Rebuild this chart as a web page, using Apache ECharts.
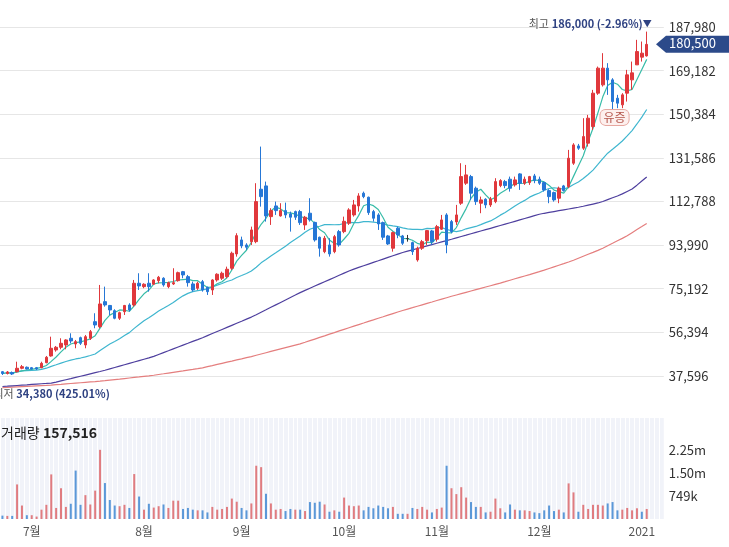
<!DOCTYPE html>
<html>
<head>
<meta charset="utf-8">
<script src="https://cdn.jsdelivr.net/npm/echarts@6/dist/echarts.min.js"></script>
<style>
  html, body { margin: 0; padding: 0; background: #fff; }
  #chart { width: 729px; height: 547px; }
</style>
</head>
<body>
<div id="chart"></div>
<script>
// 일봉 (2020-06-23 ~ 2021-01-05)
const dates = [
  '2020-06-23', '2020-06-24', '2020-06-25', '2020-06-26', '2020-06-29', '2020-06-30',
  '2020-07-01', '2020-07-02', '2020-07-03', '2020-07-06', '2020-07-07', '2020-07-08', '2020-07-09', '2020-07-10',
  '2020-07-13', '2020-07-14', '2020-07-15', '2020-07-16', '2020-07-17', '2020-07-20', '2020-07-21', '2020-07-22',
  '2020-07-23', '2020-07-24', '2020-07-27', '2020-07-28', '2020-07-29', '2020-07-30', '2020-07-31',
  '2020-08-03', '2020-08-04', '2020-08-05', '2020-08-06', '2020-08-07', '2020-08-10', '2020-08-11', '2020-08-12',
  '2020-08-13', '2020-08-14', '2020-08-18', '2020-08-19', '2020-08-20', '2020-08-21', '2020-08-24', '2020-08-25',
  '2020-08-26', '2020-08-27', '2020-08-28', '2020-08-31',
  '2020-09-01', '2020-09-02', '2020-09-03', '2020-09-04', '2020-09-07', '2020-09-08', '2020-09-09', '2020-09-10',
  '2020-09-11', '2020-09-14', '2020-09-15', '2020-09-16', '2020-09-17', '2020-09-18', '2020-09-21', '2020-09-22',
  '2020-09-23', '2020-09-24', '2020-09-25', '2020-09-28', '2020-09-29',
  '2020-10-05', '2020-10-06', '2020-10-07', '2020-10-08', '2020-10-12', '2020-10-13', '2020-10-14', '2020-10-15',
  '2020-10-16', '2020-10-19', '2020-10-20', '2020-10-21', '2020-10-22', '2020-10-23', '2020-10-26', '2020-10-27',
  '2020-10-28', '2020-10-29', '2020-10-30',
  '2020-11-02', '2020-11-03', '2020-11-04', '2020-11-05', '2020-11-06', '2020-11-09', '2020-11-10', '2020-11-11',
  '2020-11-12', '2020-11-13', '2020-11-16', '2020-11-17', '2020-11-18', '2020-11-19', '2020-11-20', '2020-11-23',
  '2020-11-24', '2020-11-25', '2020-11-26', '2020-11-27', '2020-11-30',
  '2020-12-01', '2020-12-02', '2020-12-03', '2020-12-04', '2020-12-07', '2020-12-08', '2020-12-09', '2020-12-10',
  '2020-12-11', '2020-12-14', '2020-12-15', '2020-12-16', '2020-12-17', '2020-12-18', '2020-12-21', '2020-12-22',
  '2020-12-23', '2020-12-24', '2020-12-28', '2020-12-29', '2020-12-30',
  '2021-01-04', '2021-01-05'
];

const opens = [
  39450, 38670, 39100, 39450, 40920, 41350, 41180, 41180, 41180, 43330,
  46220, 48810, 49970, 50960, 53850, 51390, 54110, 50960, 53850, 61010,
  58850, 69630, 67990, 65750, 62470, 65320, 68210, 68210, 77560, 76100,
  77560, 77130, 78680, 79720, 76100, 77260, 78680, 82560, 80410, 77260,
  75410, 78250, 75840, 74670, 78980, 79720, 80410, 84030, 90190, 96230,
  94070, 95490, 95490, 118080, 119510, 106270, 110880, 106570, 108860, 107440,
  108430, 108430, 102690, 107740, 103770, 97390, 91180, 94070, 91180, 99810,
  99810, 103430, 107000, 110880, 116360, 114630, 108430, 107000, 103690, 97950,
  92650, 101270, 97950, 96800, 95070, 87610, 92650, 95930, 100110, 96530,
  100840, 107000, 104120, 103990, 112050, 120670, 123520, 118510, 112050, 113770,
  111320, 112740, 119640, 121360, 122400, 119940, 124680, 120670, 120930, 123820,
  122400, 120930, 117480, 116620, 114200, 119510, 119200, 129290, 136740, 135760,
  137910, 145070, 159470, 163050, 170250, 165200, 157310, 154430, 159470, 165200,
  171670, 174990, 175540
];
const highs = [
  39750, 39750, 39540, 43760, 42340, 41690, 41480, 41480, 43760, 46220,
  54540, 50530, 53850, 53420, 56000, 53120, 54540, 55270, 57430, 64630,
  76830, 76100, 68210, 66350, 65320, 68210, 68940, 78980, 81870, 77560,
  81870, 79290, 80710, 80150, 78250, 84030, 82560, 82860, 81140, 78250,
  78250, 78980, 76100, 79290, 81870, 82560, 84720, 91180, 99120, 97650,
  94800, 101960, 120670, 136450, 121360, 109890, 112740, 112050, 112310, 108430,
  108860, 109160, 106570, 114200, 104120, 97650, 97950, 96960, 98380, 100540,
  106270, 109890, 113470, 116360, 117050, 114890, 109160, 107740, 104120, 98380,
  99810, 101960, 98380, 98380, 95490, 93340, 96230, 100540, 100540, 102690,
  107000, 107740, 104850, 111320, 129290, 128560, 124250, 119200, 114890, 114200,
  114760, 122830, 122400, 122100, 123520, 123520, 124980, 123520, 123820, 124680,
  123520, 121360, 118080, 117050, 119200, 119940, 135030, 137910, 137610, 148690,
  150110, 160890, 170940, 176710, 172410, 165930, 158740, 159470, 169510, 173090,
  182450, 181720, 186000
];
const lows = [
  38030, 38240, 38030, 39100, 40490, 40400, 40400, 40190, 40920, 43070,
  45920, 48070, 49110, 49110, 51690, 49540, 50960, 49540, 53120, 58160,
  58160, 67470, 63890, 62040, 61740, 63890, 65320, 67470, 74670, 75410,
  73940, 76830, 77560, 76100, 75410, 76830, 78250, 79720, 76100, 73940,
  74670, 73940, 72520, 72520, 78250, 78980, 79720, 83290, 89030, 92650,
  91920, 94070, 94800, 110580, 104120, 102690, 107000, 106270, 105580, 99810,
  104850, 102690, 100540, 104120, 95490, 89030, 90490, 89030, 90490, 93340,
  99120, 102690, 106270, 108430, 114200, 107000, 104120, 100540, 96230, 94070,
  91180, 96960, 94070, 95490, 89760, 86870, 91920, 94070, 94070, 95490,
  100540, 90490, 99120, 102690, 111320, 119940, 113470, 111320, 107740, 109890,
  110450, 112050, 118950, 118510, 117050, 119200, 117780, 119940, 119940, 120670,
  119940, 117050, 112050, 112740, 112050, 117050, 118510, 128560, 135030, 135030,
  136450, 143650, 158740, 162320, 158740, 152270, 153000, 153000, 155850, 160890,
  171670, 173090, 175250
];
const closes = [
  38670, 39320, 38460, 40920, 41610, 40620, 40620, 40620, 43070, 45660,
  49540, 49970, 51690, 53120, 52690, 52400, 51690, 54540, 56700, 59580,
  68640, 68210, 66050, 62470, 64890, 67990, 66050, 77560, 76400, 77130,
  76100, 78980, 80150, 76830, 77820, 77820, 82130, 81140, 77820, 74670,
  77560, 74670, 73940, 78980, 81440, 81870, 83600, 90490, 98080, 93640,
  93080, 100540, 112740, 114890, 106570, 108860, 108860, 108860, 107000, 106010,
  106010, 103690, 106010, 104850, 96230, 92650, 96960, 90190, 97650, 94070,
  104260, 109160, 111320, 115200, 114890, 108000, 105580, 103130, 97390, 94500,
  99380, 98380, 94800, 96800, 91180, 92650, 95490, 100240, 95490, 101960,
  104850, 94070, 99810, 107000, 123520, 124250, 116360, 112740, 113470, 111320,
  113900, 121360, 121790, 119640, 118510, 122100, 120670, 122400, 123520, 121790,
  120670, 117780, 114890, 113470, 118510, 117480, 131450, 137180, 135760, 140760,
  148690, 159470, 170250, 170250, 165200, 155850, 155160, 158740, 167360, 168220,
  177400, 176710, 180500
];
const volumes = [
  110000, 101000, 101000, 1126000, 439000, 124000, 124000, 79000, 304000, 462000,
  1453000, 360000, 1002000, 394000, 496000, 1577000, 462000, 777000, 473000, 924000,
  2253000, 1171000, 619000, 439000, 417000, 462000, 360000, 1464000, 732000, 304000,
  496000, 372000, 417000, 473000, 360000, 597000, 597000, 327000, 360000, 304000,
  282000, 282000, 214000, 394000, 304000, 327000, 394000, 665000, 563000, 360000,
  282000, 507000, 1735000, 1689000, 822000, 507000, 304000, 327000, 259000, 327000,
  304000, 304000, 259000, 552000, 529000, 563000, 473000, 237000, 282000, 237000,
  698000, 439000, 417000, 439000, 282000, 394000, 349000, 439000, 394000, 349000,
  394000, 169000, 169000, 169000, 360000, 327000, 394000, 304000, 214000, 327000,
  372000, 1735000, 1002000, 811000, 1036000, 698000, 552000, 394000, 394000, 214000,
  237000, 665000, 349000, 214000, 473000, 304000, 282000, 282000, 259000, 214000,
  191000, 282000, 439000, 259000, 304000, 214000, 1160000, 867000, 237000, 462000,
  327000, 462000, 462000, 439000, 507000, 552000, 282000, 304000, 360000, 282000,
  349000, 237000, 327000
];
// 60일, 120일 이동평균
const ma60 = [
  33070, 33210, 33360, 33510, 33660, 33800, 33950, 34100, 34250, 34390,
  34540, 34960, 35470, 35980, 36480, 36990, 37500, 38000, 38510, 39020,
  39520, 40080, 40670, 41260, 41850, 42440, 43040, 43630, 44220, 44810,
  45400, 46070, 46870, 47670, 48470, 49280, 50080, 50880, 51680, 52490,
  53290, 54100, 54990, 55880, 56770, 57660, 58540, 59430, 60320, 61200,
  62090, 62980, 64020, 65080, 66130, 67190, 68250, 69300, 70360, 71420,
  72470, 73530, 74490, 75420, 76350, 77280, 78210, 79140, 80070, 81000,
  81930, 82860, 83670, 84390, 85110, 85830, 86550, 87260, 87980, 88700,
  89420, 90140, 90810, 91380, 91950, 92520, 93090, 93660, 94230, 94800,
  95370, 95940, 96510, 97100, 97690, 98280, 98880, 99470, 100060, 100650,
  101240, 101840, 102430, 103030, 103640, 104250, 104860, 105460, 106070, 106680,
  107280, 107710, 108080, 108450, 108820, 109190, 109560, 109930, 110300, 110730,
  111210, 111690, 112160, 112800, 113590, 114380, 115170, 116080, 117130, 118190,
  119830, 121590, 123340
];
const ma120 = [
  32550, 32660, 32780, 32890, 33000, 33120, 33230, 33350, 33460, 33570,
  33690, 33850, 34010, 34180, 34350, 34520, 34690, 34860, 35030, 35190,
  35360, 35570, 35800, 36030, 36260, 36500, 36730, 36960, 37190, 37430,
  37660, 37920, 38240, 38550, 38870, 39190, 39510, 39820, 40140, 40450,
  40770, 41110, 41600, 42080, 42570, 43060, 43550, 44030, 44520, 45000,
  45490, 45970, 46520, 47070, 47620, 48170, 48710, 49260, 49810, 50360,
  50910, 51460, 52120, 52810, 53510, 54220, 54910, 55620, 56310, 57010,
  57710, 58400, 59080, 59760, 60430, 61110, 61780, 62460, 63130, 63810,
  64490, 65160, 65820, 66430, 67040, 67660, 68270, 68880, 69490, 70110,
  70720, 71330, 71940, 72510, 73080, 73650, 74220, 74790, 75360, 75930,
  76500, 77070, 77640, 78250, 78870, 79480, 80090, 80700, 81310, 81930,
  82540, 83210, 83910, 84610, 85310, 86000, 86700, 87490, 88340, 89180,
  90030, 90870, 91720, 92670, 93730, 94780, 95840, 96890, 98060, 99370,
  100680, 101980, 103290
];

const priceTicks = [37596, 56394, 75192, 93990, 112788, 131586, 150384, 169182, 187980];
const volumeTicks = [749000, 1498000, 2247000];
const monthLabels = {
  '2020-07-01': '7월', '2020-08-03': '8월', '2020-09-01': '9월', '2020-10-05': '10월',
  '2020-11-02': '11월', '2020-12-01': '12월', '2021-01-04': '2021'
};
const periodLow = 34380;          // 최저가
const lastVolumeText = 157516;    // 거래량 표시값
const rightsIssueDate = '2020-12-22'; // 유증

const UP = '#e0383c', DOWN = '#2677d6';
const fmt = v => v.toLocaleString('en-US');

function movingAverage(n) {
  return closes.map((c, i) => {
    const win = closes.slice(Math.max(0, i - n + 1), i + 1);
    return Math.round(win.reduce((a, b) => a + b, 0) / win.length);
  });
}

const last = closes.length - 1;
const hiVal = Math.max(...highs);
const hiIdx = highs.indexOf(hiVal);
const hiPct = ((closes[last] - hiVal) / hiVal * 100).toFixed(2);
const loPct = ((closes[last] - periodLow) / periodLow * 100).toFixed(2);
const riIdx = dates.indexOf(rightsIssueDate);

const xCats = dates.concat(['pad1', 'pad2', 'pad3']);
const candleData = dates.map((d, i) => [opens[i], closes[i], lows[i], highs[i]]);
const volumeData = volumes.map((v, i) => {
  const prev = i > 0 ? closes[i - 1] : opens[i];
  return { value: v, itemStyle: { color: closes[i] >= prev ? '#e07c80' : '#5b98d8' } };
});

const chart = echarts.init(document.getElementById('chart'), null, { renderer: 'canvas' });

const gridLeft = -2.6, gridRight = 65.2;
const option = {
  animation: false,
  textStyle: { fontFamily: "'Noto Sans CJK KR', 'Noto Sans', sans-serif" },
  grid: [
    { left: gridLeft, right: gridRight, top: 10, bottom: 157 },
    { left: gridLeft, right: gridRight, top: 418, bottom: 28, show: true, backgroundColor: '#f1f3f9', borderWidth: 0 }
  ],
  xAxis: [
    {
      type: 'category', gridIndex: 0, data: xCats, boundaryGap: true,
      axisLine: { show: false }, axisTick: { show: false }, axisLabel: { show: false }, splitLine: { show: false }
    },
    {
      type: 'category', gridIndex: 1, data: xCats, boundaryGap: true,
      axisLine: { show: false }, axisTick: { show: false },
      splitLine: { show: true, interval: 0, lineStyle: { color: '#ffffff', width: 1 } },
      axisLabel: {
        interval: (idx, value) => monthLabels[value] !== undefined,
        formatter: value => monthLabels[value] || '',
        color: '#555', fontSize: 12, margin: 6
      }
    }
  ],
  yAxis: [
    {
      type: 'value', gridIndex: 0, position: 'right',
      min: 31560, max: 195310,
      axisLine: { show: false },
      axisTick: { show: false, customValues: priceTicks },
      axisLabel: { customValues: priceTicks, formatter: v => fmt(v), color: '#333', fontSize: 13, margin: 5 },
      splitLine: { show: true, lineStyle: { color: '#e6e6e6', width: 1 } }
    },
    {
      type: 'value', gridIndex: 1, position: 'right',
      min: 0, max: 3290000,
      axisLine: { show: false },
      axisTick: { show: false, customValues: volumeTicks },
      axisLabel: {
        customValues: volumeTicks, color: '#333', fontSize: 13, margin: 5,
        formatter: v => v < 1e6 ? Math.round(v / 1000) + 'k' : (v / 1e6).toFixed(2) + 'm'
      },
      splitLine: { show: false }
    }
  ],
  series: [
    {
      name: '120일', type: 'line', xAxisIndex: 0, yAxisIndex: 0, data: ma120,
      symbol: 'none', lineStyle: { color: '#e47e7e', width: 1.2 }, z: 2
    },
    {
      name: '60일', type: 'line', xAxisIndex: 0, yAxisIndex: 0, data: ma60,
      symbol: 'none', lineStyle: { color: '#4e3f9e', width: 1.2 }, z: 2
    },
    {
      name: '20일', type: 'line', xAxisIndex: 0, yAxisIndex: 0, data: movingAverage(20),
      symbol: 'none', lineStyle: { color: '#3fb6cf', width: 1.2 }, z: 2
    },
    {
      name: '5일', type: 'line', xAxisIndex: 0, yAxisIndex: 0, data: movingAverage(5),
      symbol: 'none', lineStyle: { color: '#38bca8', width: 1.2 }, z: 2
    },
    {
      name: '일봉', type: 'candlestick', xAxisIndex: 0, yAxisIndex: 0, data: candleData,
      barWidth: 3, z: 3,
      itemStyle: {
        color: UP, color0: DOWN, borderColor: UP, borderColor0: DOWN,
        borderColorDoji: '#333', borderWidth: 1
      },
      markPoint: {
        symbol: 'circle', symbolSize: 1, itemStyle: { color: 'rgba(0,0,0,0)' },
        data: [
          {
            coord: [dates[hiIdx], hiVal],
            label: {
              show: true, position: 'inside', align: 'right', verticalAlign: 'middle', offset: [5, -8],
              formatter: `{g|최고} {b|${fmt(hiVal)} (${hiPct}%)}{t|▼}`,
              rich: {
                g: { color: '#555', fontSize: 11 },
                b: { color: '#2f4282', fontSize: 11, fontWeight: 'bold' },
                t: { color: '#2f4282', fontSize: 9 }
              }
            }
          },
          {
            coord: [dates[0], periodLow],
            label: {
              show: true, position: 'inside', align: 'left', verticalAlign: 'middle', offset: [-9, 10],
              formatter: `{g|최저} {b|${fmt(periodLow)} (${loPct}%)}`,
              rich: {
                g: { color: '#555', fontSize: 11 },
                b: { color: '#2f4282', fontSize: 11, fontWeight: 'bold' }
              }
            }
          },
          {
            coord: [rightsIssueDate, lows[riIdx]],
            label: {
              show: true, position: 'inside', align: 'center', verticalAlign: 'top', offset: [2, 0],
              formatter: '유증', color: '#b4564c', fontSize: 12,
              backgroundColor: '#fdf0ee', borderColor: '#e6a7a0', borderWidth: 1, borderRadius: 5,
              padding: [2, 3, 1, 3]
            }
          }
        ]
      }
    },
    {
      name: '거래량', type: 'bar', xAxisIndex: 1, yAxisIndex: 1, data: volumeData,
      barWidth: 2
    }
  ]
};
chart.setOption(option);

// 현재가 태그
const tagY = chart.convertToPixel({ yAxisIndex: 0 }, closes[last]);
chart.setOption({
  graphic: [
    {
      type: 'polygon', z: 10,
      shape: { points: [[656, tagY], [666, tagY - 8.5], [729, tagY - 8.5], [729, tagY + 8.5], [666, tagY + 8.5]] },
      style: { fill: '#2c4a8a' }
    },
    {
      type: 'text', z: 11, left: 669, top: tagY - 8,
      style: { text: fmt(closes[last]), fill: '#fff', fontSize: 13, fontFamily: "'Noto Sans CJK KR', sans-serif" }
    },
    {
      type: 'text', z: 11, left: 1, top: 426,
      style: {
        text: '{a|거래량} {b|' + fmt(lastVolumeText) + '}',
        rich: {
          a: { fontSize: 14, fill: '#222', fontFamily: "'Noto Sans CJK KR', sans-serif" },
          b: { fontSize: 14, fill: '#222', fontWeight: 'bold', fontFamily: "'Noto Sans CJK KR', sans-serif" }
        }
      }
    }
  ]
});
</script>
</body>
</html>
